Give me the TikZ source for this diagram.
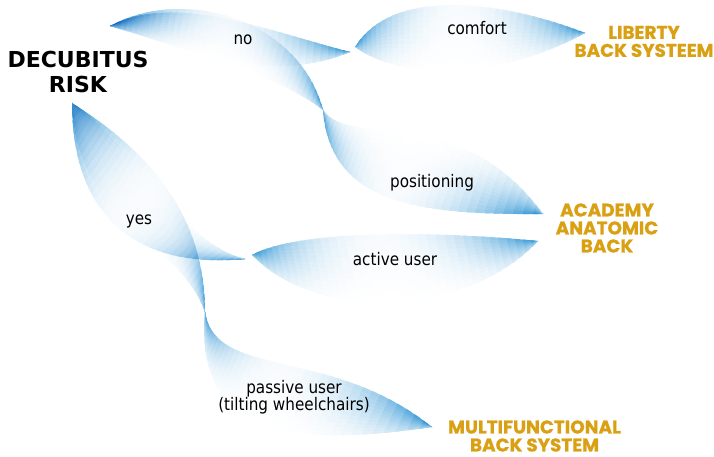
\documentclass[tikz,border=0pt]{standalone}
\usepackage{fontspec}
\setmainfont{DejaVu Sans}
\newfontfamily\labfont[FakeStretch=0.88]{DejaVu Sans}
\newfontfamily\goldfont{Poppins}[BoldFeatures={FakeBold=0.8}]
\definecolor{swblue}{RGB}{30,140,210}
\definecolor{goldtxt}{RGB}{218,160,20}

\def\swNt{36}
\def\swNs{12}
\def\swgetA#1,#2,#3,#4\relax{\def\swAax{#1}\def\swAay{#2}\def\swAbx{#3}\def\swAby{#4}}
\def\swgetB#1,#2,#3,#4\relax{\def\swBax{#1}\def\swBay{#2}\def\swBbx{#3}\def\swBby{#4}}
\newcommand\swcalc[5]{%
  \pgfmathsetmacro\swu{1-#1}%
  \pgfmathsetmacro\swka{\swu*\swu*\swu}%
  \pgfmathsetmacro\swkb{3*\swu*\swu*#1}%
  \pgfmathsetmacro\swkc{3*\swu*#1*#1}%
  \pgfmathsetmacro\swkd{#1*#1*#1}%
  \pgfmathsetmacro#2{\swka*(\swPx)+\swkb*(\swAax)+\swkc*(\swAbx)+\swkd*(\swQx)}%
  \pgfmathsetmacro#3{\swka*(\swPy)-\swkb*(\swAay)-\swkc*(\swAby)+\swkd*(\swQy)}%
  \pgfmathsetmacro#4{\swka*(\swPx)+\swkb*(\swBax)+\swkc*(\swBbx)+\swkd*(\swQx)}%
  \pgfmathsetmacro#5{\swka*(\swPy)-\swkb*(\swBay)-\swkc*(\swBby)+\swkd*(\swQy)}%
}
% \swoosh{start}{end}{blue-edge controls}{faint-edge controls}
\newcommand\swoosh[4]{%
  \pgfpointanchor{#1}{center}\pgfgetlastxy{\swPx}{\swPy}%
  \pgfpointanchor{#2}{center}\pgfgetlastxy{\swQx}{\swQy}%
  \pgfmathsetmacro\swPx{\swPx}\pgfmathsetmacro\swPy{\swPy}%
  \pgfmathsetmacro\swQx{\swQx}\pgfmathsetmacro\swQy{\swQy}%
  \swgetA#3\relax\swgetB#4\relax
  \begin{scope}[blend mode=multiply]
  \begin{scope}[transparency group]
  \foreach \j in {1,...,\swNt}{%
    \pgfmathsetmacro\swta{(\j-1)/\swNt}%
    \pgfmathsetmacro\swtb{min(1,(\j+0.6)/\swNt)}%
    \swcalc{\swta}{\xAa}{\yAa}{\xBa}{\yBa}%
    \swcalc{\swtb}{\xAb}{\yAb}{\xBb}{\yBb}%
    \pgfmathsetmacro\swe{abs(2*(\j-0.5)/\swNt-1)^2}%
    \foreach \i in {1,...,\swNs}{%
      \pgfmathsetmacro\swsa{(\i-1)/\swNs}%
      \pgfmathsetmacro\swsb{min(1,(\i+0.6)/\swNs)}%
      \pgfmathsetmacro\swsm{(\i-0.5)/\swNs}%
      \pgfmathsetmacro\swI{100*(0.035+0.965*\swe)*((1-\swsm)^1.2*(1-0.45*\swe)+0.45*\swe)}%
      \pgfmathsetmacro\xa{(\xAa)+\swsa*((\xBa)-(\xAa))}%
      \pgfmathsetmacro\ya{(\yAa)+\swsa*((\yBa)-(\yAa))}%
      \pgfmathsetmacro\xb{(\xAb)+\swsa*((\xBb)-(\xAb))}%
      \pgfmathsetmacro\yb{(\yAb)+\swsa*((\yBb)-(\yAb))}%
      \pgfmathsetmacro\xc{(\xAb)+\swsb*((\xBb)-(\xAb))}%
      \pgfmathsetmacro\yc{(\yAb)+\swsb*((\yBb)-(\yAb))}%
      \pgfmathsetmacro\xd{(\xAa)+\swsb*((\xBa)-(\xAa))}%
      \pgfmathsetmacro\yd{(\yAa)+\swsb*((\yBa)-(\yAa))}%
      \fill[swblue!\swI!white]
        (\xa pt,\ya pt) -- (\xb pt,\yb pt) -- (\xc pt,\yc pt) -- (\xd pt,\yd pt) -- cycle;
    }%
  }%
  \end{scope}
  \end{scope}
}

\tikzset{
  lab/.style={font=\labfont\fontsize{17.3}{17}\selectfont, inner sep=0pt, text=black},
  goldlab/.style={font=\goldfont\bfseries\fontsize{18.4}{18}\selectfont, text=goldtxt, align=center, inner sep=0pt},
  rootlab/.style={font=\bfseries\fontsize{22}{25}\selectfont, align=center, inner sep=0pt, text=black}
}

\begin{document}
\begin{tikzpicture}[x=1pt,y=-1pt]
\useasboundingbox (0,0) rectangle (714,457);
% pinch points
\coordinate (P0) at (110,26);
\coordinate (P1) at (72,103);
\coordinate (Q1e) at (350,52);
\coordinate (Q1s) at (355,47);
\coordinate (R1) at (323,110);
\coordinate (T1) at (585,33);
\coordinate (T2) at (543,214);
\coordinate (Q2e) at (245,259);
\coordinate (Q2s) at (252,255);
\coordinate (T3) at (538,241);
\coordinate (R2) at (205,312);
\coordinate (T4) at (432,427);

% swooshes
\swoosh{P0}{Q1e}{175,-8,265,30}{170,40,260,90}
\swoosh{P0}{R1}{185,-15,300,20}{170,45,280,75}
\swoosh{Q1s}{T1}{395,-18,515,5}{400,80,500,80}
\swoosh{R1}{T2}{330,205,420,215}{350,150,460,100}
\swoosh{P1}{Q2e}{72,210,130,270}{120,130,180,245}
\swoosh{P1}{R2}{130,140,205,200}{75,220,180,240}
\swoosh{Q2s}{T3}{300,228,450,232}{320,325,470,315}
\swoosh{R2}{T4}{215,380,330,345}{195,430,280,450}

% texts
\node[rootlab] (root) at (78,72) {DECUBITUS\\RISK};
\node[lab, anchor=base] (no) at (243,45) {no};
\node[lab, anchor=base] (comfort) at (477,35) {comfort};
\node[lab, anchor=base] (positioning) at (432,187) {positioning};
\node[lab, anchor=base] (yes) at (139,224) {yes};
\node[lab, anchor=base] (active) at (395,265) {active user};
\node[lab, align=center] (passive) at (294,397) {passive user\\(tilting wheelchairs)};
\node[goldlab] (liberty) at (644,41.5) {LIBERTY\\BACK SYSTEEM};
\node[goldlab] (academy) at (607,228) {ACADEMY\\ANATOMIC\\BACK};
\node[goldlab] (multi) at (534.5,436) {MULTIFUNCTIONAL\\BACK SYSTEM};
\end{tikzpicture}
\end{document}
